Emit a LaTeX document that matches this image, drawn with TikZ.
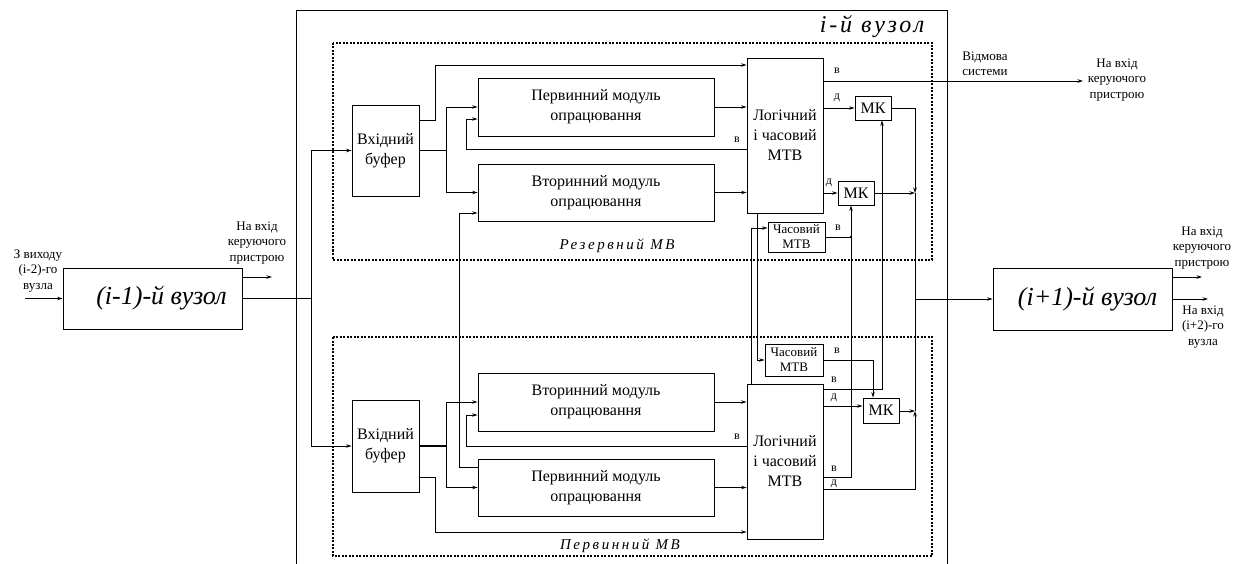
\documentclass[tikz,border=0pt]{standalone}
\usepackage{fontspec}
\setmainfont{Liberation Serif}
\usetikzlibrary{arrows.meta}
\begin{document}
\begin{tikzpicture}[x=1pt,y=-1pt,
  box/.style={draw, line width=0.9pt, inner sep=1pt, align=center, font=\fontsize{16}{20}\selectfont},
  smallbox/.style={box, font=\fontsize{13}{15}\selectfont},
  arr/.style={-{Stealth[length=5.5pt,width=3.5pt]}, line width=0.75pt},
  ln/.style={line width=0.75pt},
  thk/.style={line width=1.4pt},
  lbl/.style={font=\fontsize{12}{14}\selectfont, inner sep=0pt},
  note/.style={font=\fontsize{13}{15.5}\selectfont, align=center, inner sep=0pt},
  dashbox/.style={line width=1.2pt, dash pattern=on 2pt off 1.5pt},
  big/.style={box, font=\fontsize{26}{30}\selectfont\itshape},
  mvlabel/.style={font=\fontsize{15}{17}\selectfont\itshape, inner sep=0pt},
]
\useasboundingbox (0,0) rectangle (1245,564);

% outer node frame
\draw[line width=1pt] (296,564) -- (296,11) -- (947,11) -- (947,564);
\node[font=\fontsize{24}{28}\selectfont\itshape, inner sep=0pt] (title) at (872,27) {\addfontfeature{LetterSpace=12}i-й вузол};

% dashed sub-blocks
\draw[dashbox] (333,43) rectangle (932,260);
\draw[dashbox] (333,337) rectangle (932,556);
\node[mvlabel] (resT) at (617,246) {\addfontfeature{LetterSpace=17}Резервний МВ};
\node[mvlabel] (perB) at (620,546) {\addfontfeature{LetterSpace=17}Первинний МВ};

% neighbour nodes
\node[big, minimum width=179pt, minimum height=61pt] (prev) at (152.5,298.5) {\hspace*{18pt}(i-1)-й вузол};
\node[big, minimum width=179pt, minimum height=62pt] (next) at (1082.5,299) {\hspace*{10pt}(i+1)-й вузол};

% buffers
\node[box, minimum width=67pt, minimum height=91pt] (bufT) at (385.5,150.5) {Вхідний\\буфер};
\node[box, minimum width=67pt, minimum height=92pt] (bufB) at (385.5,446) {Вхідний\\буфер};

% processing modules
\node[box, minimum width=236pt, minimum height=58pt] (pmT) at (596,107) {Первинний модуль\\опрацювання};
\node[box, minimum width=236pt, minimum height=57pt] (smT) at (596,192.5) {Вторинний модуль\\опрацювання};
\node[box, minimum width=236pt, minimum height=58pt] (smB) at (596,402) {Вторинний модуль\\опрацювання};
\node[box, minimum width=236pt, minimum height=57pt] (pmB) at (596,487.5) {Первинний модуль\\опрацювання};

% logic and time MTV
\node[box, minimum width=76pt, minimum height=155pt] (ltT) at (785,135.5) {Логічний\\і часовий\\МТВ};
\node[box, minimum width=76pt, minimum height=155pt] (ltB) at (785,461.5) {Логічний\\і часовий\\МТВ};

% time MTV
\node[smallbox, minimum width=57pt, minimum height=30pt] (tmT) at (796.5,237) {Часовий\\МТВ};
\node[smallbox, minimum width=58pt, minimum height=32pt] (tmB) at (794,360) {Часовий\\МТВ};

% MK
\node[box, minimum width=36pt, minimum height=24pt] (mk1) at (873,108) {МК};
\node[box, minimum width=36pt, minimum height=24pt] (mk2) at (856,193) {МК};
\node[box, minimum width=36pt, minimum height=25pt] (mk3) at (881,410.5) {МК};

% coordinates
\coordinate (src) at (25,298.5);
\coordinate (ctlL) at (272,277);
\coordinate (ctlT) at (1083,81);
\coordinate (ctlR) at (1202,277);
\coordinate (outR) at (1208,299);
\coordinate (busT) at (311,150.5);
\coordinate (busB) at (311,446);
\coordinate (forkT) at (446,150.5);
\coordinate (forkB) at (446,446);
\coordinate (jT) at (915,193);
\coordinate (jB) at (915,411);
\coordinate (jM) at (915,299);
\coordinate (dotT) at (851,237);

% left side
\draw[arr] (src) -- (prev.west);
\node[note] (srcT) at (38,271) {З виходу\\(i-2)-го\\вузла};
\draw[arr] (prev.east |- ctlL) -- (ctlL);
\node[note] (ctlLT) at (257,243) {На вхід\\керуючого\\пристрою};
\draw[thk] (prev.east) -- (311,298.5);
\draw[ln] (busT) -- (busB);
\draw[arr] (busT) -- (bufT.west);
\draw[arr] (busB) -- (bufB.west);

% top (reserve) block
\draw[arr] (bufT.east |- 0,120) -| (435,65) -- (ltT.west |- 0,65);
\draw[thk] (bufT.east) -- (forkT);
\draw[arr] (forkT) |- (pmT.west);
\draw[arr] (forkT) |- (smT.west);
\draw[arr] (pmT.east) -- (ltT.west |- pmT.east);
\draw[arr] (smT.east) -- (ltT.west |- smT.east);
\draw[arr] (ltT.west |- 0,149) -| (466,119) -- (pmT.west |- 0,119);
\node[lbl] (fbT) at (737,140) {в};
\draw[arr] (pmB.west |- 0,467) -| (459,213) -- (smT.west |- 0,213);

% bottom (primary) block
\draw[thk] (bufB.east) -- (forkB);
\draw[arr] (forkB) |- (smB.west);
\draw[arr] (forkB) |- (pmB.west);
\draw[arr] (bufB.east |- 0,477) -| (435,532) -- (ltB.west |- 0,532);
\draw[arr] (smB.east) -- (ltB.west |- smB.east);
\draw[arr] (pmB.east) -- (ltB.west |- pmB.east);
\draw[arr] (ltB.west |- 0,446) -| (466,415) -- (smB.west |- 0,415);
\node[lbl] (fbB) at (737,437) {в};

% outputs of top logic MTV
\draw[arr] (ltT.east |- ctlT) -- (ctlT);
\node[lbl] (vT1) at (837,71) {в};
\node[note] (fail) at (985,64) {Відмова\\системи};
\node[note] (ctlTT) at (1117,80) {На вхід\\керуючого\\пристрою};
\draw[arr] (ltT.east |- mk1.west) -- (mk1.west);
\node[lbl] (dT1) at (837,98) {д};
\draw[arr] (ltT.east |- mk2.west) -- (mk2.west);
\node[lbl] (dT2) at (829,183) {д};
\draw[arr] (mk1.east) -| (jT);
\draw[arr] (mk2.east) -- (jT);
\draw[ln] (tmT.east) -- (dotT);
\node[lbl] (vT2) at (838,228) {в};
\fill (dotT) circle (1.3pt);

% cross links between blocks
\draw[arr] (ltB.north -| 751,0) |- (tmT.west |- 0,228);
\draw[arr] (ltT.south -| 757,0) |- (tmB.west);
\draw[arr] (ltB.east |- 0,477) -| (mk2.south -| 851,0);
\draw[arr] (ltB.east |- 0,389) -| (mk1.south -| 882,0);
\draw[arr] (tmB.east) -| (mk3.north -| 873,0);
\node[lbl] (vB0) at (837,351) {в};
\node[lbl] (vB1) at (834,380) {в};
\draw[arr] (ltB.east |- 0,406) -- (mk3.west |- 0,406);
\node[lbl] (dB1) at (834,398) {д};
\node[lbl] (vB2) at (834,469) {в};
\draw[arr] (mk3.east |- jB) -- (jB);
\draw[arr] (ltB.east |- 0,489) -| (jB);
\node[lbl] (dB2) at (834,484) {д};
\draw[ln] (jT) -- (jB);
\draw[arr] (jM) -- (next.west);

% right side
\draw[arr] (next.east |- ctlR) -- (ctlR);
\node[note] (ctlRT) at (1202,248) {На вхід\\керуючого\\пристрою};
\draw[arr] (next.east |- outR) -- (outR);
\node[note] (outRT) at (1203,327) {На вхід\\(i+2)-го\\вузла};
\end{tikzpicture}
\end{document}
